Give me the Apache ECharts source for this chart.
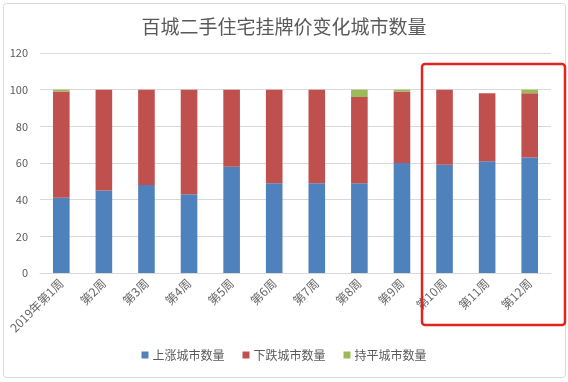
<!DOCTYPE html>
<html><head><meta charset="utf-8">
<script src="https://cdn.jsdelivr.net/npm/echarts@6/dist/echarts.min.js"></script>
<style>html,body{margin:0;padding:0;background:#fff}#c{width:568px;height:382px}</style>
</head><body><div id="c"></div>
<script>
const categories = ['2019年第1周','第2周','第3周','第4周','第5周','第6周','第7周','第8周','第9周','第10周','第11周','第12周'];
const upCities   = [41, 45, 48, 43, 58, 49, 49, 49, 60, 59, 61, 63];
const downCities = [58, 55, 52, 57, 42, 51, 51, 47, 39, 41, 37, 35];
const flatCities = [1, 0, 0, 0, 0, 0, 0, 4, 1, 0, 0, 2];
const seriesNames = ['上涨城市数量','下跌城市数量','持平城市数量'];
const yTicks = [0, 20, 40, 60, 80, 100, 120];

const chart = echarts.init(document.getElementById('c'), null, {renderer:'canvas'});
const font = '"Noto Sans CJK SC", "Noto Sans", sans-serif';
const mk = (name, data, color) => ({
  name, type:'bar', stack:'total', data, barWidth:'39%',
  itemStyle:{color}
});
chart.setOption({
  animation:false,
  textStyle:{fontFamily:font},
  title:{text:'百城二手住宅挂牌价变化城市数量', left:'center', top:12,
    textStyle:{fontSize:19, fontWeight:'normal', color:'#595959', fontFamily:font}},
  legend:{bottom:16, left:'center', itemWidth:7, itemHeight:7, itemGap:18,
    icon:'rect', textStyle:{fontSize:12, color:'#595959', padding:[0,0,0,-1]}},
  grid:{left:40, right:17, top:53, bottom:109, containLabel:false},
  xAxis:{type:'category', data:categories,
    axisLine:{lineStyle:{color:'#d9d9d9'}}, axisTick:{show:false},
    axisLabel:{rotate:45, fontSize:12, color:'#666666', margin:8, interval:0}},
  yAxis:{type:'value', min:yTicks[0], max:yTicks[yTicks.length-1], interval:20,
    axisLine:{show:false}, axisTick:{show:false},
    splitLine:{lineStyle:{color:'#d9d9d9'}},
    axisLabel:{fontSize:11, color:'#595959', margin:12}},
  series:[
    mk(seriesNames[0], upCities, '#4f81bd'),
    mk(seriesNames[1], downCities, '#c0504d'),
    mk(seriesNames[2], flatCities, '#9bbb59')
  ],
  graphic:[
    {type:'rect', shape:{x:3.5, y:3.5, width:562, height:374, r:3}, silent:true,
     style:{fill:null, stroke:'#d9d9d9', lineWidth:1}, z:-1},
    {type:'rect', shape:{x:422, y:64, width:143, height:261, r:3}, silent:true,
     style:{fill:null, stroke:'#e0251f', lineWidth:2.5}, z:100}
  ]
});
</script></body></html>
